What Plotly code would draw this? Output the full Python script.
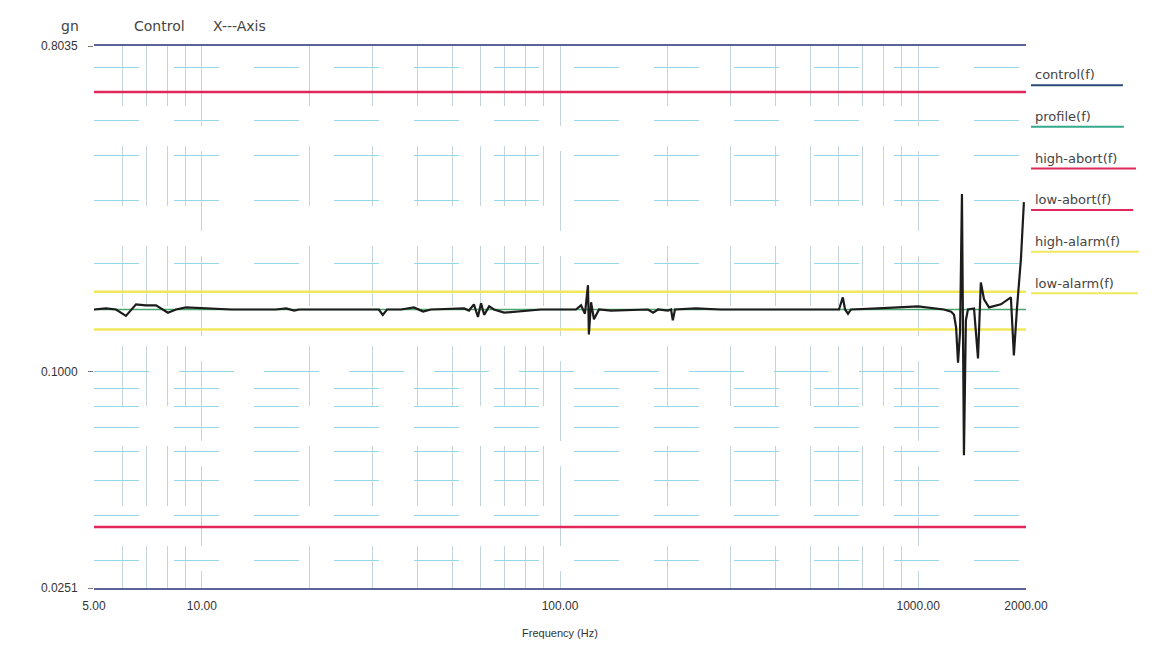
import math
import plotly.graph_objects as go

# Control trace (Hz, gn)
freq = [5.00, 5.40, 5.76, 6.14, 6.55, 6.98, 7.45, 8.04, 8.47, 9.03, 12.1, 16.1,
        17.2, 18.1, 18.7, 24.5, 31.2, 32.0, 32.9, 36.0, 39.1, 41.5, 43.6, 54.0,
        55.7, 57.5, 59.0, 60.2, 61.4, 63.4, 65.4, 69.8, 88.5, 110.8, 114.5, 117.4,
        119.7, 120.4, 122.1, 124.4, 128.5, 138.8, 176.1, 181.9, 187.8, 200.1, 204.2,
        206.5, 209.4, 239.7, 281.3, 357, 471, 601, 616, 625, 637, 649, 772, 999,
        1180, 1236, 1259, 1276, 1292, 1309, 1325, 1342, 1359, 1377, 1432, 1469,
        1496, 1527, 1577, 1702, 1815, 1850, 1888, 1936, 1973]
control = [0.149, 0.150, 0.149, 0.143, 0.154, 0.153, 0.153, 0.146, 0.149, 0.151, 0.149, 0.149,
           0.150, 0.148, 0.149, 0.149, 0.149, 0.144, 0.149, 0.149, 0.151, 0.147, 0.149, 0.150,
           0.148, 0.154, 0.142, 0.155, 0.144, 0.152, 0.149, 0.146, 0.149, 0.149, 0.153, 0.145,
           0.174, 0.127, 0.156, 0.140, 0.149, 0.148, 0.149, 0.146, 0.149, 0.148, 0.149,
           0.139, 0.149, 0.150, 0.149, 0.149, 0.149, 0.149, 0.161, 0.149, 0.145, 0.149, 0.150, 0.152,
           0.149, 0.147, 0.144, 0.133, 0.106, 0.129, 0.312, 0.0587, 0.139, 0.149, 0.150, 0.109,
           0.177, 0.159, 0.151, 0.154, 0.161, 0.111, 0.151, 0.206, 0.296]

# flat reference lines
band_freq = [5, 2000]
profile = 0.149
high_abort = 0.599
low_abort = 0.0371
high_alarm = 0.167
low_alarm = 0.131

x_ticks = [5, 10, 100, 1000, 2000]
x_ticktext = ["5.00", "10.00", "100.00", "1000.00", "2000.00"]
y_ticks = [0.0251, 0.1, 0.8035]
y_ticktext = ["0.0251", "0.1000", "0.8035"]

RED = "#e0285a"
YELLOW = "#f0e85a"
GREEN = "#4aa86e"
INK = "#1c1c1c"
GRID_H = "#93d8e6"
GRID_V = "#c3d4da"
FONT = "Liberation Sans, Arial, sans-serif"
WIDE = "DejaVu Sans, sans-serif"

fig = go.Figure()

fig.add_trace(go.Scatter(x=band_freq, y=[profile] * 2, mode="lines",
                         line=dict(color=GREEN, width=1.5), name="profile(f)"))
for val in (high_abort, low_abort):
    fig.add_trace(go.Scatter(x=band_freq, y=[val] * 2, mode="lines",
                             line=dict(color=RED, width=2.5)))
for val in (high_alarm, low_alarm):
    fig.add_trace(go.Scatter(x=band_freq, y=[val] * 2, mode="lines",
                             line=dict(color=YELLOW, width=2.5)))
fig.add_trace(go.Scatter(x=freq, y=control, mode="lines",
                         line=dict(color=INK, width=2.2), name="control(f)"))

x_minor = [m * 10 ** k for k in range(0, 3) for m in range(2, 10) if 5 < m * 10 ** k < 2000]
y_minor = [m * 10 ** k for k in (-2, -1) for m in range(2, 10) if 0.0251 < m * 10 ** k < 0.8035]

fig.update_xaxes(
    type="log", range=[math.log10(5), math.log10(2000)],
    tickmode="array", tickvals=x_ticks, ticktext=x_ticktext,
    ticks="", ticklabelstandoff=6, automargin=False,
    tickfont=dict(family=FONT, size=12, color="#333"),
    showgrid=True, gridcolor=GRID_V, gridwidth=0.7, griddash="80px,25px",
    minor=dict(tickvals=x_minor, showgrid=True, gridcolor=GRID_V,
               gridwidth=0.7, griddash="60px,40px"),
    showline=True, mirror=True, linecolor="#5a6498", linewidth=1.5,
    zeroline=False,
    title=dict(text="Frequency (Hz)", font=dict(family=FONT, size=11, color="#333"),
               standoff=24),
)
fig.update_yaxes(
    type="log", range=[math.log10(0.0251), math.log10(0.8035)],
    tickmode="array", tickvals=y_ticks, ticktext=y_ticktext,
    ticks="outside", ticklen=5, tickcolor="#777", ticklabelstandoff=8,
    automargin=False,
    tickfont=dict(family=FONT, size=12, color="#333"),
    showgrid=True, gridcolor=GRID_H, gridwidth=1.2, griddash="55px,30px",
    minor=dict(tickvals=y_minor, showgrid=True, gridcolor=GRID_H,
               gridwidth=1.2, griddash="45px,35px"),
    showline=False, zeroline=False,
)

# header texts
head = dict(xref="paper", yref="paper", showarrow=False, yanchor="middle",
            font=dict(family=WIDE, size=14, color="#444"))
fig.add_annotation(text="gn", x=-0.014, y=1.037, xanchor="right", **head)
fig.add_annotation(text="Control", x=0.041, y=1.037, xanchor="left", **head)
fig.add_annotation(text="X---Axis", x=0.1255, y=1.037, xanchor="left", **head)

# legend on the right: text with a coloured underline
legend_names = ["control(f)", "profile(f)", "high-abort(f)", "low-abort(f)",
                "high-alarm(f)", "low-alarm(f)"]
legend_colors = ["#2b4a7a", "#35a88c", RED, RED, YELLOW, YELLOW]
legend_ends = [1.104, 1.105, 1.118, 1.115, 1.121, 1.120]
leg = dict(head, font=dict(family=WIDE, size=13, color="#444"))
for i, (name, col, x1) in enumerate(zip(legend_names, legend_colors, legend_ends)):
    ty = 0.9467 - i * 0.0768
    fig.add_annotation(text=name, x=1.0075, y=ty, xanchor="left", **leg)
    fig.add_shape(type="line", xref="paper", yref="paper",
                  x0=1.0054, x1=x1, y0=ty - 0.019, y1=ty - 0.019,
                  line=dict(color=col, width=2))

fig.update_layout(
    width=1154, height=631,
    margin=dict(l=86, r=136, t=38, b=51),
    plot_bgcolor="white", paper_bgcolor="white",
    showlegend=False,
    font=dict(family=FONT, size=11, color="#333"),
)

fig.write_html("out.html")
